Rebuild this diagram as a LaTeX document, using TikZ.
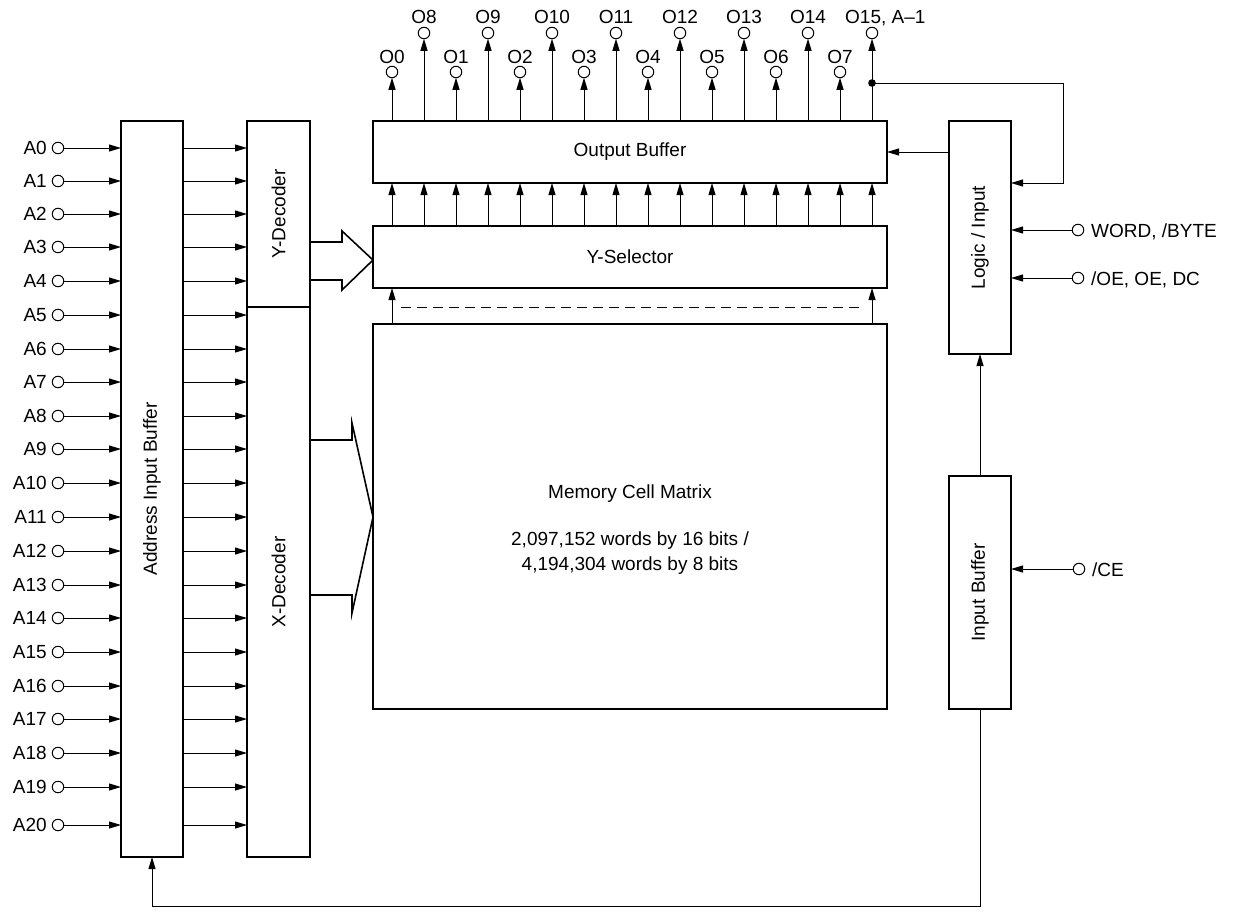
\documentclass[tikz,border=0pt]{standalone}
\usepackage{fontspec}
\setmainfont{Liberation Sans}
\usetikzlibrary{arrows.meta}
\newcommand\dfont{\fontsize{19}{23}\selectfont}
\begin{document}
\begin{tikzpicture}[x=1pt,y=-1pt,font=\dfont,
  box/.style={draw, line width=1.8pt, inner sep=0pt, outer sep=0pt, anchor=north west},
  conn/.style={line width=1pt, -{Triangle[length=12pt,width=7pt]}},
  wire/.style={line width=1pt},
  pin/.style={circle, draw, line width=1pt, minimum size=11.5pt, inner sep=0pt, outer sep=0pt},
  txt/.style={inner sep=0pt},
  bigarrow/.style={line width=1.6pt, line join=miter}
]
\useasboundingbox (0,0) rectangle (1236,911);

% boxes
\node[box, minimum width=62pt, minimum height=736pt, label={[rotate=90]center:Address Input Buffer}] (aib) at (121,121) {};
\node[box, minimum width=63pt, minimum height=186pt, label={[rotate=90]center:Y-Decoder}] (yd) at (247,121) {};
\node[box, minimum width=63pt, minimum height=550pt, label={[rotate=90]center:X-Decoder}] (xd) at (247,307) {};
\node[box, minimum width=514pt, minimum height=62pt] (ob) at (373,121) {Output Buffer};
\node[box, minimum width=514pt, minimum height=62pt] (ys) at (373,226) {Y-Selector};
\node[box, minimum width=514pt, minimum height=385pt] (mem) at (373,324) {};
\node[box, minimum width=62pt, minimum height=233pt, label={[rotate=90]center:Logic / Input}] (li) at (949,121) {};
\node[box, minimum width=62pt, minimum height=233pt, label={[rotate=90]center:Input Buffer}] (ib) at (949,476) {};

% memory text
\node[txt, anchor=base] (mt1) at (630,498) {Memory Cell Matrix};
\node[txt, anchor=base] (mt2) at (630,545) {2,097,152 words by 16 bits /};
\node[txt, anchor=base] (mt3) at (630,570) {4,194,304 words by 8 bits};

% address inputs
\foreach \y [count=\i from 0] in {148,181,214,247,281,315,349,382,416,449,483,517,551,585,618,652,686,719,753,787,825} {
  \node[pin] (a\i) at (58,\y) {};
  \node[txt, anchor=east] (al\i) at (47,\y) {A\i};
  \draw[conn] (a\i) -- (a\i -| aib.west);
  \draw[conn] (a\i -| aib.east) -- (a\i -| yd.west);
}

% outputs
\foreach \i in {0,...,7} {
  \node[pin] (o\i) at ({392+64*\i},72) {};
  \node[txt, anchor=base] (ol\i) at ({392+64*\i},63) {O\i};
  \draw[conn] (o\i |- ob.north) -- (o\i);
  \draw[conn] (o\i |- ys.north) -- (o\i |- ob.south);
}
\foreach \i in {8,...,15} {
  \node[pin] (o\i) at ({424+64*(\i-8)},33) {};
  \draw[conn] (o\i |- ob.north) -- (o\i);
  \draw[conn] (o\i |- ys.north) -- (o\i |- ob.south);
}
\foreach \i in {8,...,14} {
  \node[txt, anchor=base] (ol\i) at ({424+64*(\i-8)},23) {O\i};
}
\node[txt, anchor=base west] (ol15) at (845,23) {O15, A–1};

% selector to matrix
\draw[conn] (o0 |- mem.north) -- (o0 |- ys.south);
\draw[conn] (o15 |- mem.north) -- (o15 |- ys.south);
\coordinate (dl) at (401,307);
\coordinate (dr) at (862,307);
\draw[wire, dash pattern=on 10pt off 6pt] (dl) -- (dr);

% big arrows
\draw[bigarrow] (yd.east |- 0,242) -- (342,242) -- (342,231) -- (ys.west |- 0,260) -- (342,290) -- (342,280) -- (yd.east |- 0,280);
\draw[bigarrow] (xd.east |- 0,440) -- (352,440) -- (352,423) -- (mem.west |- 0,517) -- (352,613) -- (352,595) -- (xd.east |- 0,595);

% feedback from O15
\coordinate (fb) at (872,83);
\fill (fb) circle (3.8pt);
\coordinate (fb1) at (1063,83);
\coordinate (fb2) at (1063,183);
\draw[conn] (fb) -- (fb1) -- (fb2) -- (fb2 -| li.east);

% logic to output buffer
\draw[conn] (li.west |- ob.center) -- (ob.east);

% control inputs
\node[pin] (wb) at (1078,230) {};
\node[txt, anchor=base west] (wbl) at (1091,237.5) {WORD, /BYTE};
\draw[conn] (wb) -- (wb -| li.east);
\node[pin] (oe) at (1078,278) {};
\node[txt, anchor=base west] (oel) at (1091,285.5) {/OE, OE, DC};
\draw[conn] (oe) -- (oe -| li.east);
\node[pin] (ce) at (1079,569) {};
\node[txt, anchor=base west] (cel) at (1092,576) {/CE};
\draw[conn] (ce) -- (ce -| ib.east);

% input buffer to logic
\draw[conn] (ib.north) -- (li.south);

% bottom loop
\coordinate (bot) at (0,906);
\draw[conn] (ib.south) -- (ib.south |- bot) -- (aib.south |- bot) -- (aib.south);
\end{tikzpicture}
\end{document}
